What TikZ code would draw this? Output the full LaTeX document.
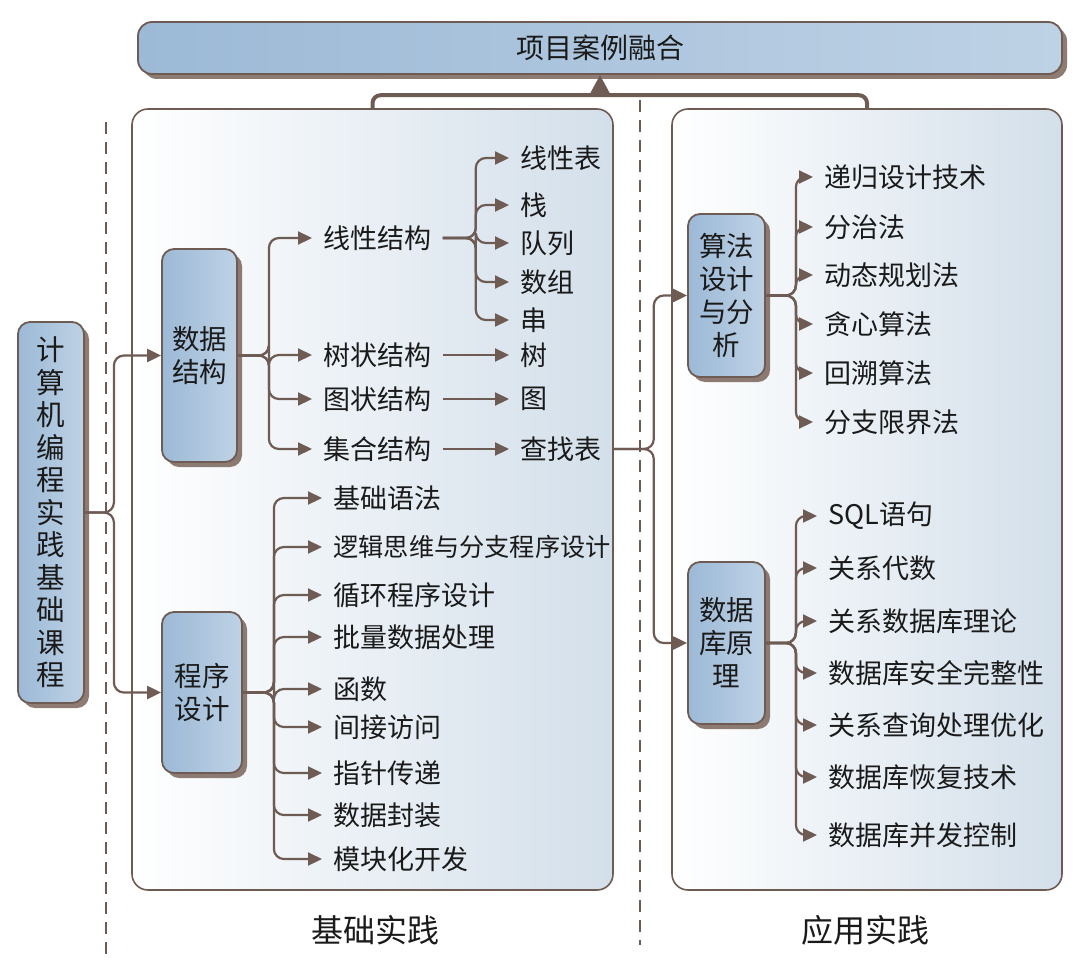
\documentclass[tikz,border=0pt]{standalone}
\usepackage{fontspec}
\newfontfamily\cjk{Noto Sans CJK SC}
\usetikzlibrary{shadows,arrows.meta,calc}
\definecolor{brn}{HTML}{6E5C54}
\definecolor{bxA}{HTML}{9CB9D6}
\definecolor{bxB}{HTML}{BED2E5}
\definecolor{pnB}{HTML}{D3DFEA}
\definecolor{shd}{HTML}{7A655B}
\definecolor{txt}{HTML}{1A1A1A}
\begin{document}
\begin{tikzpicture}[x=0.5pt,y=-0.5pt,
  box/.style={draw=brn, line width=0.9pt, rounded corners=6pt, left color=bxA, right color=bxB,
    drop shadow={shadow xshift=2.5pt, shadow yshift=-2.5pt, fill=shd, opacity=0.85},
    inner sep=0pt, align=center, text=txt, font=\cjk\fontsize{13.75}{16.5}\selectfont},
  panel/.style={draw=brn, line width=0.8pt, rounded corners=8pt, left color=white, right color=pnB, inner sep=0pt},
  leaf/.style={anchor=west, inner xsep=5.5pt, inner ysep=2pt, text=txt, font=\cjk\fontsize{13.5}{16}\selectfont},
  conn/.style={draw=brn, line width=1.1pt, rounded corners=5pt, -{Triangle[length=7pt,width=6.5pt]}},
  dashline/.style={draw=brn, line width=0.7pt, dash pattern=on 6pt off 4pt},
  lab/.style={text=txt, font=\cjk\fontsize{16}{16}\selectfont}
]
\useasboundingbox (0,0) rectangle (1080,974);

% panels
\node[panel, minimum width=240.5pt, minimum height=390.5pt] (lp) at (372.5,499.5) {};
\node[panel, minimum width=195pt, minimum height=390.5pt] (rp) at (867,499.5) {};

% dashed separators
\draw[dashline] (106,122) -- (106,955);
\draw[dashline] (640,100) -- (640,945);

% banner
\node[box, rounded corners=7pt, minimum width=462pt, minimum height=26pt, font=\cjk\fontsize{14}{16}\selectfont] (ban) at (600,48) {项目案例融合};

% bracket
\draw[brn, line width=2pt, rounded corners=4pt] (lp.north) -- ++(0,-13) -| (rp.north);
\coordinate (bj) at (600,96);
\draw[brn, line width=2pt, -{Triangle[length=9pt,width=9pt]}] (bj) -- (ban.south);

% main boxes
\node[box, minimum width=33pt, minimum height=190.5pt, font=\cjk\fontsize{14.25}{16.25}\selectfont] (root) at (51,512.5)
  {计\\算\\机\\编\\程\\实\\践\\基\\础\\课\\程};
\node[box, minimum width=37.5pt, minimum height=106.5pt] (ds) at (199.5,355.5) {数据\\结构};
\node[box, minimum width=40pt, minimum height=80.5pt] (pd) at (202,692.5) {程序\\设计};
\node[box, minimum width=38.5pt, minimum height=81.5pt] (alg) at (726.5,295.5) {算法\\设计\\与分\\析};
\node[box, minimum width=38.5pt, minimum height=81pt] (db) at (726.5,643) {数据\\库原\\理};

\draw[conn] (root.east) -- ++(29,0) |- (ds.west);
\draw[conn] (root.east) -- ++(29,0) |- (pd.west);

% data structure
\node[leaf] (l1) at (312,238) {线性结构};
\node[leaf] (l2) at (312,355) {树状结构};
\node[leaf] (l3) at (312,399) {图状结构};
\node[leaf] (l4) at (312,449) {集合结构};
\foreach \n in {l1,l2,l3,l4} \draw[conn] (ds.east) -- ++(31,0) |- (\n.west);

\node[leaf] (a1) at (509,158) {线性表};
\node[leaf] (a2) at (509,205) {栈};
\node[leaf] (a3) at (509,243) {队列};
\node[leaf] (a4) at (509,282) {数组};
\node[leaf] (a5) at (509,320) {串};
\foreach \n in {a1,a2,a3,a4,a5} \draw[conn] (l1.east) -- ++(33,0) |- (\n.west);

\node[leaf] (b1) at (509,355) {树};
\node[leaf] (b2) at (509,399) {图};
\node[leaf] (b3) at (509,449) {查找表};
\draw[conn] (l2.east) -- (b1.west);
\draw[conn] (l3.east) -- (b2.west);
\draw[conn] (l4.east) -- (b3.west);

\draw[conn] (b3.east) -- ++(41,0) |- (alg.west);
\draw[conn] (b3.east) -- ++(41,0) |- (db.west);

% programming
\node[leaf] (p1) at (322,498) {基础语法};
\node[leaf, font=\cjk\fontsize{12.6}{16}\selectfont] (p2) at (322,547) {逻辑思维与分支程序设计};
\node[leaf] (p3) at (322,595) {循环程序设计};
\node[leaf] (p4) at (322,637) {批量数据处理};
\node[leaf] (p5) at (322,689) {函数};
\node[leaf] (p6) at (322,727) {间接访问};
\node[leaf] (p7) at (322,773) {指针传递};
\node[leaf] (p8) at (322,815) {数据封装};
\node[leaf] (p9) at (322,859) {模块化开发};
\foreach \n in {p1,p2,p3,p4,p5,p6,p7,p8,p9} \draw[conn] (pd.east) -- ++(31,0) |- (\n.west);

% algorithms
\node[leaf] (g1) at (813,177) {递归设计技术};
\node[leaf] (g2) at (813,227) {分治法};
\node[leaf] (g3) at (813,275) {动态规划法};
\node[leaf] (g4) at (813,324) {贪心算法};
\node[leaf] (g5) at (813,373) {回溯算法};
\node[leaf] (g6) at (813,422) {分支限界法};
\foreach \n in {g1,g2,g3,g4,g5,g6} \draw[conn] (alg.east) -- ++(30,0) |- (\n.west);

% database
\node[leaf] (d1) at (817,516) {SQL语句};
\node[leaf] (d2) at (817,568) {关系代数};
\node[leaf] (d3) at (817,621) {关系数据库理论};
\node[leaf] (d4) at (817,673) {数据库安全完整性};
\node[leaf] (d5) at (817,725) {关系查询处理优化};
\node[leaf] (d6) at (817,777) {数据库恢复技术};
\node[leaf] (d7) at (817,835) {数据库并发控制};
\foreach \n in {d1,d2,d3,d4,d5,d6,d7} \draw[conn] (db.east) -- ++(30,0) |- (\n.west);

% bottom labels
\node[lab] (lb1) at (375,930) {基础实践};
\node[lab] (lb2) at (865,930) {应用实践};
\end{tikzpicture}
\end{document}
